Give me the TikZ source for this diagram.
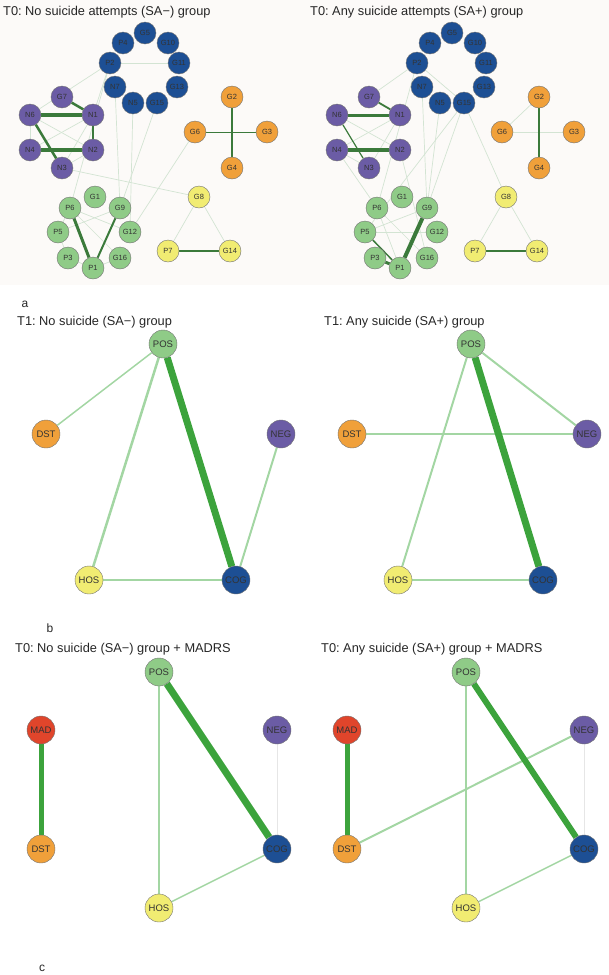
\documentclass[tikz,border=0pt]{standalone}
\usepackage{fontspec}
\setmainfont{Liberation Sans}
\usepackage{xcolor}
\usetikzlibrary{backgrounds}
\frenchspacing

\definecolor{netblue}{HTML}{1D4F94}
\definecolor{netpurple}{HTML}{6B5CA5}
\definecolor{netorange}{HTML}{F0A03A}
\definecolor{netyellow}{HTML}{F1EC72}
\definecolor{netgreen}{HTML}{8FCB87}
\definecolor{netred}{HTML}{E0452B}
\definecolor{edgedark}{HTML}{3B7A3B}
\definecolor{edgefaint}{HTML}{D3E4D3}
\definecolor{edgebright}{HTML}{3CA33C}
\definecolor{edgepale}{HTML}{A3D6A3}
\definecolor{edgegray}{HTML}{E6E6E6}
\definecolor{panelbg}{HTML}{FCFAF8}

\begin{document}
\begin{tikzpicture}[
    x=1pt, y=-1pt,
    nd/.style={circle, draw=black!55, line width=0.4pt, fill=#1, minimum size=22pt,
               inner sep=0pt, text=black!80, font=\fontsize{7.5}{8}\selectfont},
    bignd/.style={nd=#1, minimum size=28pt, font=\fontsize{9.5}{10}\selectfont},
    ttl/.style={anchor=west, inner sep=0pt, text=black!85, font=\fontsize{12.8}{14}\selectfont},
    tag/.style={inner sep=0pt, text=black!85, font=\fontsize{12}{14}\selectfont},
    strong/.style={draw=edgedark, line width=#1},
    weak/.style={draw=edgefaint, line width=0.7pt},
    bold/.style={draw=edgebright, line width=#1},
    pale/.style={draw=edgepale, line width=#1}
  ]
  \useasboundingbox (0,0) rectangle (609,975);

  %% ---- a: item networks at T0 ----
  \node[ttl] (ttl_al) at (3,12)   {T0: No suicide attempts (SA−) group};
  \node[ttl] (ttl_ar) at (310,12) {T0: Any suicide attempts (SA+) group};

  \foreach \s/\dx in {l/0, r/307} {
    \foreach \n/\x/\y/\c in {
        G5/145/33/netblue, P4/123/43/netblue, G10/168/43/netblue,
        P2/110/63/netblue, G11/179/63/netblue, N7/115/87/netblue,
        G13/177/87/netblue, N5/133/103/netblue, G15/157/103/netblue,
        G7/62/97/netpurple, N6/30/115/netpurple, N1/93/115/netpurple,
        N4/30/150/netpurple, N2/93/150/netpurple, N3/62/168/netpurple,
        G2/232/97/netorange, G6/195/132/netorange, G3/267/132/netorange,
        G4/232/168/netorange,
        G8/199/197/netyellow, P7/168/251/netyellow, G14/230/251/netyellow,
        G1/95/197/netgreen, P6/70/208/netgreen, G9/120/208/netgreen,
        P5/58/232/netgreen, G12/130/232/netgreen, P3/68/258/netgreen,
        P1/93/268/netgreen, G16/120/258/netgreen}
      \node[nd=\c] (\s\n) at (\x+\dx,\y) {\n};
  }

  \begin{scope}[on background layer]
    \fill[panelbg] (0,0) rectangle (609,285);

    % SA- group
    \foreach \a/\b in {P2/G11, P2/N1, P2/P6, N7/G9, N5/G12, G15/G9, G6/G12,
                       N3/G8, G8/P7, G8/G14, N6/N2, N4/N1, N3/N1, N3/N2,
                       N4/N6, N6/P2, P5/G9, P5/P3, P3/P1, P6/G16, P5/P6,
                       P1/G16, P6/G12}
      \draw[weak] (l\a) -- (l\b);
    \foreach \a/\b/\w in {N6/N1/3.5pt, N4/N2/4.5pt, G7/N1/2.5pt, N6/N3/2.5pt,
                          N1/N2/2pt, P6/P1/3pt, G9/P1/2pt, P7/G14/2pt,
                          G2/G4/1.2pt, G6/G3/0.8pt}
      \draw[strong=\w] (l\a) -- (l\b);

    % SA+ group
    \foreach \a/\b in {G7/P2, P2/G15, G15/G8, N7/G9, N5/G9, G15/G9, P2/P6,
                       N4/P6, N6/N2, N4/N1, N3/N1, N4/N3, G6/G2, G6/G3,
                       G8/P7, G8/G14, P5/G12, P5/G9, P6/P1, N2/G16, G15/P5,
                       P6/G16}
      \draw[weak] (r\a) -- (r\b);
    \foreach \a/\b/\w in {N6/N1/3pt, N4/N2/4.5pt, G7/N1/1.8pt, N6/N3/1.2pt,
                          G9/P1/4pt, P3/P1/3pt, P5/P1/1.5pt, P7/G14/2.5pt,
                          G2/G4/1.8pt}
      \draw[strong=\w] (r\a) -- (r\b);
  \end{scope}

  \node[tag] (tag_a) at (25,304) {a};

  %% ---- b: scale networks at T1 ----
  \node[ttl] (ttl_bl) at (17,322)  {T1: No suicide (SA−) group};
  \node[ttl] (ttl_br) at (324,322) {T1: Any suicide (SA+) group};

  \node[bignd=netgreen]  (blPOS) at (163,344) {POS};
  \node[bignd=netorange] (blDST) at (46,434)  {DST};
  \node[bignd=netpurple] (blNEG) at (281,434) {NEG};
  \node[bignd=netyellow] (blHOS) at (89,580)  {HOS};
  \node[bignd=netblue]   (blCOG) at (236,580) {COG};

  \node[bignd=netgreen]  (brPOS) at (471,344) {POS};
  \node[bignd=netorange] (brDST) at (352,434) {DST};
  \node[bignd=netpurple] (brNEG) at (587,434) {NEG};
  \node[bignd=netyellow] (brHOS) at (398,580) {HOS};
  \node[bignd=netblue]   (brCOG) at (543,580) {COG};

  \begin{scope}[on background layer]
    \draw[pale=1.5pt] (blPOS) -- (blDST);
    \draw[pale=2.5pt] (blPOS) -- (blHOS);
    \draw[pale=2pt]   (blNEG) -- (blCOG);
    \draw[pale=1.5pt] (blHOS) -- (blCOG);
    \draw[bold=7pt]   (blPOS) -- (blCOG);

    \draw[pale=2pt]   (brPOS) -- (brHOS);
    \draw[pale=2pt]   (brPOS) -- (brNEG);
    \draw[pale=2pt]   (brDST) -- (brNEG);
    \draw[pale=1.5pt] (brHOS) -- (brCOG);
    \draw[bold=7pt]   (brPOS) -- (brCOG);
  \end{scope}

  \node[tag] (tag_b) at (50,628) {b};

  %% ---- c: scale networks at T0 with MADRS ----
  \node[ttl] (ttl_cl) at (15,649)  {T0: No suicide (SA−) group + MADRS};
  \node[ttl] (ttl_cr) at (321,649) {T0: Any suicide (SA+) group + MADRS};

  \node[bignd=netgreen]  (clPOS) at (159,672) {POS};
  \node[bignd=netred]    (clMAD) at (41,730)  {MAD};
  \node[bignd=netpurple] (clNEG) at (277,730) {NEG};
  \node[bignd=netorange] (clDST) at (41,849)  {DST};
  \node[bignd=netblue]   (clCOG) at (277,849) {COG};
  \node[bignd=netyellow] (clHOS) at (159,908) {HOS};

  \node[bignd=netgreen]  (crPOS) at (466,672) {POS};
  \node[bignd=netred]    (crMAD) at (347,730) {MAD};
  \node[bignd=netpurple] (crNEG) at (584,730) {NEG};
  \node[bignd=netorange] (crDST) at (347,849) {DST};
  \node[bignd=netblue]   (crCOG) at (584,849) {COG};
  \node[bignd=netyellow] (crHOS) at (466,908) {HOS};

  \begin{scope}[on background layer]
    \draw[bold=5pt]   (clMAD) -- (clDST);
    \draw[pale=2.5pt] (clPOS) -- (clHOS);
    \draw[pale=1.5pt] (clHOS) -- (clCOG);
    \draw[draw=edgegray, line width=0.6pt] (clNEG) -- (clCOG);
    \draw[bold=7pt]   (clPOS) -- (clCOG);

    \draw[bold=5pt]   (crMAD) -- (crDST);
    \draw[pale=1.5pt] (crPOS) -- (crHOS);
    \draw[pale=2pt]   (crDST) -- (crNEG);
    \draw[pale=1.5pt] (crHOS) -- (crCOG);
    \draw[draw=edgegray, line width=0.6pt] (crNEG) -- (crCOG);
    \draw[bold=6pt]   (crPOS) -- (crCOG);
  \end{scope}

  \node[tag] (tag_c) at (42,968) {c};

\end{tikzpicture}
\end{document}
